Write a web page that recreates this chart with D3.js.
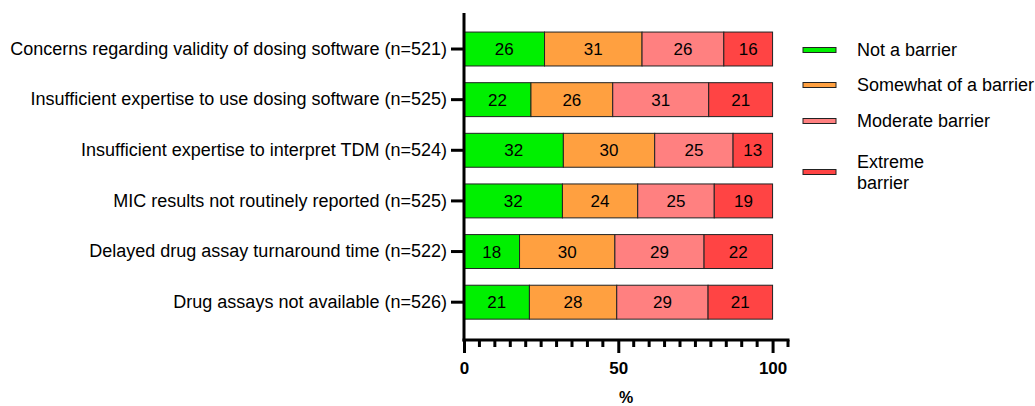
<!DOCTYPE html>
<html>
<head>
<meta charset="utf-8">
<script src="https://cdn.jsdelivr.net/npm/d3@7"></script>
<style>
  body { margin: 0; background: white; }
  text { font-family: "Liberation Sans", Arial, sans-serif; }
</style>
</head>
<body>
<div id="chart"></div>
<script>
// Categories, top to bottom
const categories = [
    "Concerns regarding validity of dosing software (n=521)",
    "Insufficient expertise to use dosing software (n=525)",
    "Insufficient expertise to interpret TDM (n=524)",
    "MIC results not routinely reported (n=525)",
    "Delayed drug assay turnaround time (n=522)",
    "Drug assays not available (n=526)"
];

const seriesNames = ["Not a barrier", "Somewhat of a barrier", "Moderate barrier", "Extreme barrier"];
const seriesColors = ["#00F000", "#FFA040", "#FF8080", "#FF4444"];

// segment widths (%)
const notBarrier = [26.1, 21.7, 32.2, 31.9, 18.0, 21.2];
const somewhat   = [31.6, 26.5, 29.6, 24.4, 30.9, 28.3];
const moderate   = [26.5, 31.1, 25.4, 24.8, 28.9, 29.6];
const extreme    = [15.8, 20.7, 12.8, 18.9, 22.2, 20.9];

// printed labels inside the bars
const notBarrierLabels = [26, 22, 32, 32, 18, 21];
const somewhatLabels   = [31, 26, 30, 24, 30, 28];
const moderateLabels   = [26, 31, 25, 25, 29, 29];
const extremeLabels    = [16, 21, 13, 19, 22, 21];

const xTicks = [0, 50, 100];

const width = 1035, height = 406;

const svg = d3.select("#chart").append("svg")
    .attr("width", width)
    .attr("height", height);

// scales
const x = d3.scaleLinear().domain([0, 105]).range([464, 788]);
const y = d3.scaleBand()
    .domain(categories)
    .range([23.7, 327.5])
    .paddingInner(0.33)
    .paddingOuter(0.165);

const values = [notBarrier, somewhat, moderate, extreme];
const labels = [notBarrierLabels, somewhatLabels, moderateLabels, extremeLabels];

// build stacked segments
const segments = [];
categories.forEach((cat, i) => {
    let start = 0;
    values.forEach((arr, s) => {
        segments.push({cat: cat, s: s, x0: start, x1: start + arr[i], label: labels[s][i]});
        start += arr[i];
    });
});

const g = svg.append("g");

g.selectAll("rect.seg")
    .data(segments)
    .join("rect")
    .attr("class", "seg")
    .attr("x", d => x(d.x0))
    .attr("y", d => y(d.cat))
    .attr("width", d => x(d.x1) - x(d.x0))
    .attr("height", y.bandwidth())
    .attr("fill", d => seriesColors[d.s])
    .attr("stroke", "#222")
    .attr("stroke-width", 1);

g.selectAll("text.val")
    .data(segments)
    .join("text")
    .attr("class", "val")
    .attr("x", d => (x(d.x0) + x(d.x1)) / 2)
    .attr("y", d => y(d.cat) + y.bandwidth() / 2)
    .attr("dy", "0.36em")
    .attr("text-anchor", "middle")
    .attr("font-size", "17px")
    .attr("fill", "#000")
    .text(d => d.label);

// Y axis
const yAxis = svg.append("g")
    .attr("transform", `translate(${x(0)},0)`)
    .call(d3.axisLeft(y).tickSize(13).tickPadding(4));
yAxis.select(".domain").remove();
yAxis.selectAll(".tick line").attr("stroke", "#000").attr("stroke-width", 3);
yAxis.selectAll(".tick text")
    .attr("font-size", "18px")
    .attr("fill", "#000")
    .style("font-family", "'Liberation Sans', Arial, sans-serif");
svg.append("line")
    .attr("x1", x(0)).attr("x2", x(0))
    .attr("y1", 13).attr("y2", 341.5)
    .attr("stroke", "#000").attr("stroke-width", 3);

// X axis
const axisY = 340;
const xAxis = svg.append("g")
    .attr("transform", `translate(0,${axisY})`)
    .call(d3.axisBottom(x).tickValues(xTicks).tickSize(13).tickPadding(9));
xAxis.select(".domain").remove();
xAxis.selectAll(".tick line").attr("stroke", "#000").attr("stroke-width", 3);
xAxis.selectAll(".tick text")
    .attr("font-size", "17px")
    .attr("font-weight", "bold")
    .attr("fill", "#000")
    .style("font-family", "'Liberation Sans', Arial, sans-serif");

// minor ticks every 5
const minor = d3.range(5, 106, 5).filter(v => !xTicks.includes(v));
svg.append("g").selectAll("line")
    .data(minor)
    .join("line")
    .attr("x1", d => x(d)).attr("x2", d => x(d))
    .attr("y1", axisY).attr("y2", axisY + 7)
    .attr("stroke", "#000").attr("stroke-width", 3);

svg.append("line")
    .attr("x1", x(0) - 1.5).attr("x2", x(105) + 1.5)
    .attr("y1", axisY).attr("y2", axisY)
    .attr("stroke", "#000").attr("stroke-width", 3);

svg.append("text")
    .attr("x", (x(0) + x(105)) / 2)
    .attr("y", 397)
    .attr("dy", "0.36em")
    .attr("text-anchor", "middle")
    .attr("font-size", "16px")
    .attr("font-weight", "bold")
    .text("%");

// Legend
const legendRows = [
    {lines: ["Not a barrier"], y: 50},
    {lines: ["Somewhat of a barrier"], y: 85},
    {lines: ["Moderate barrier"], y: 121},
    {lines: ["Extreme", "barrier"], y: 172}
];
const legend = svg.append("g");
legendRows.forEach((r, i) => {
    legend.append("rect")
        .attr("x", 803).attr("y", r.y - 2.5)
        .attr("width", 33).attr("height", 5)
        .attr("fill", seriesColors[i])
        .attr("stroke", "#222").attr("stroke-width", 1);
    const t = legend.append("text")
        .attr("x", 857)
        .attr("font-size", "18px")
        .attr("fill", "#000");
    if (r.lines.length === 1) {
        t.attr("y", r.y).attr("dy", "0.36em").text(r.lines[0]);
    } else {
        t.append("tspan").attr("x", 857).attr("y", r.y - 10.2).attr("dy", "0.36em").text(r.lines[0]);
        t.append("tspan").attr("x", 857).attr("y", r.y + 10.2).attr("dy", "0.36em").text(r.lines[1]);
    }
});
</script>
</body>
</html>
